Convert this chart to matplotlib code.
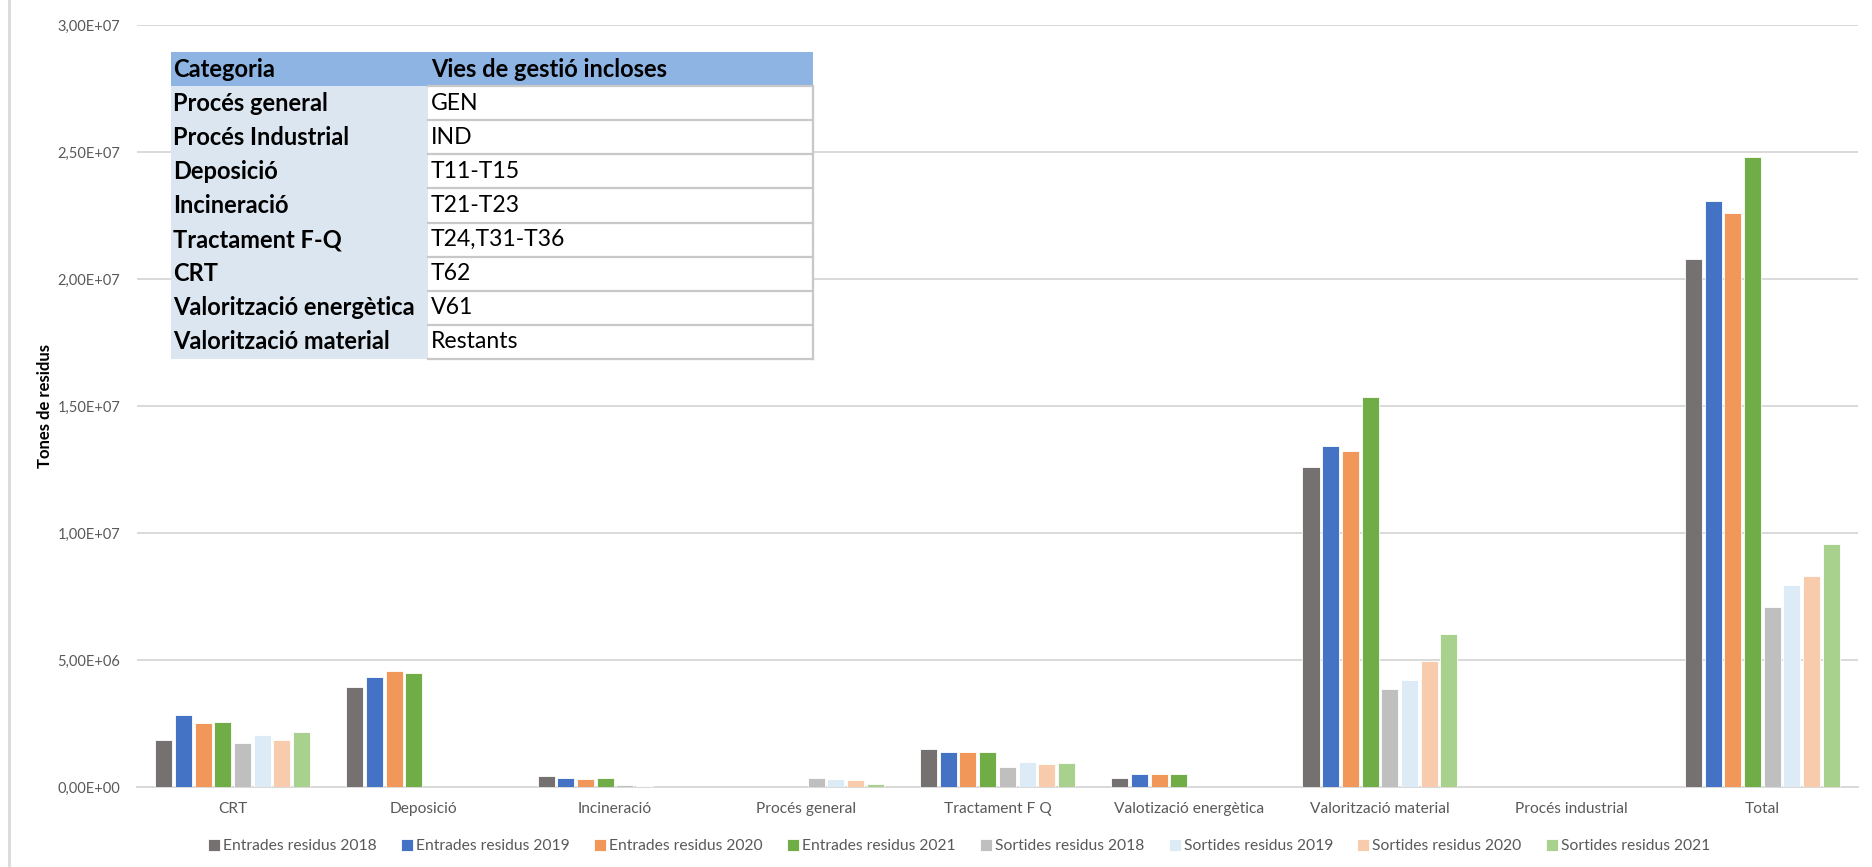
import matplotlib
matplotlib.use("Agg")
import matplotlib.pyplot as plt
import numpy as np
from matplotlib.patches import Rectangle
from matplotlib.lines import Line2D
from matplotlib.font_manager import FontProperties

categories = ["CRT", "Deposició", "Incineració", "Procés general", "Tractament F Q",
              "Valotizació energètica", "Valorització material", "Procés industrial", "Total"]

series_names = ["Entrades residus 2018", "Entrades residus 2019", "Entrades residus 2020",
                "Entrades residus 2021", "Sortides residus 2018", "Sortides residus 2019",
                "Sortides residus 2020", "Sortides residus 2021"]

entrades_2018 = [1.85e6, 3.93e6, 0.44e6, 0.0, 1.49e6, 0.37e6, 12.58e6, 0.0, 20.8e6]
entrades_2019 = [2.82e6, 4.34e6, 0.37e6, 0.0, 1.39e6, 0.53e6, 13.43e6, 0.0, 23.06e6]
entrades_2020 = [2.51e6, 4.55e6, 0.32e6, 0.0, 1.39e6, 0.53e6, 13.24e6, 0.0, 22.6e6]
entrades_2021 = [2.55e6, 4.50e6, 0.37e6, 0.0, 1.39e6, 0.53e6, 15.36e6, 0.0, 24.8e6]
sortides_2018 = [1.75e6, 0.0, 0.08e6, 0.37e6, 0.78e6, 0.0, 3.84e6, 0.0, 7.08e6]
sortides_2019 = [2.05e6, 0.0, 0.05e6, 0.33e6, 0.98e6, 0.0, 4.23e6, 0.0, 7.96e6]
sortides_2020 = [1.85e6, 0.0, 0.0, 0.28e6, 0.89e6, 0.0, 4.96e6, 0.0, 8.31e6]
sortides_2021 = [2.16e6, 0.0, 0.0, 0.13e6, 0.94e6, 0.0, 6.02e6, 0.0, 9.57e6]

all_series = [entrades_2018, entrades_2019, entrades_2020, entrades_2021,
              sortides_2018, sortides_2019, sortides_2020, sortides_2021]

colors = ["#767171", "#4472C4", "#F1975A", "#70AD47", "#BFBFBF", "#DDEBF7", "#F8CBAD", "#A9D18E"]

yticks = [0, 5e6, 1e7, 1.5e7, 2e7, 2.5e7, 3e7]
ytick_labels = ["0,00E+00", "5,00E+06", "1,00E+07", "1,50E+07", "2,00E+07", "2,50E+07", "3,00E+07"]

table_header = ["Categoria", "Vies de gestió incloses"]
table_cat = ["Procés general", "Procés Industrial", "Deposició", "Incineració",
             "Tractament F-Q", "CRT", "Valorització energètica", "Valorització material"]
table_vies = ["GEN", "IND", "T11-T15", "T21-T23", "T24,T31-T36", "T62", "V61", "Restants"]

FONT = ["Lato", "DejaVu Sans"]
plt.rcParams["font.family"] = FONT

W, H = 1872, 867
fig = plt.figure(figsize=(W / 100, H / 100), dpi=100)
fig.patch.set_facecolor("white")
renderer = fig.canvas.get_renderer()


def text_width(s, size, weight="normal"):
    fp = FontProperties(family=FONT, size=size, weight=weight)
    w, h, d = renderer.get_text_width_height_descent(s, fp, ismath=False)
    return w


def size_for(s, target_px, weight="normal"):
    return 10.0 * target_px / text_width(s, 10.0, weight)


def fx(px):
    return px / W


def fy(py):
    return 1 - py / H


ax_left, ax_right, ax_top, ax_bottom = 137, 1858, 25, 787
ax = fig.add_axes([fx(ax_left), fy(ax_bottom), fx(ax_right - ax_left), (ax_bottom - ax_top) / H])

x = np.arange(len(categories))
slot = 0.103
bw = 0.089
for j, (vals, col, name) in enumerate(zip(all_series, colors, series_names)):
    ax.bar(x + (j - 3.5) * slot, vals, width=bw, color=col, label=name,
           edgecolor="white", linewidth=0.6, zorder=3)

ax.set_xlim(-0.5, len(categories) - 0.5)
ax.set_ylim(0, 3e7)
ax.set_yticks(yticks)
ax.set_yticklabels(ytick_labels)
ax.set_xticks(x)
ax.set_xticklabels(categories)

fs_y = size_for("0,00E+00", 62)
fs_x = size_for("Valotizació energètica", 150)
ax.tick_params(axis="both", length=0, colors="#595959")
ax.tick_params(axis="y", pad=12, labelsize=fs_y)
ax.tick_params(axis="x", pad=10.5, labelsize=fs_x)
ax.grid(axis="y", color="#D9D9D9", linewidth=1.4, zorder=0)
for s in ["left", "right", "top"]:
    ax.spines[s].set_visible(False)
ax.spines["bottom"].set_color("#D9D9D9")
ax.spines["bottom"].set_linewidth(1.4)

fs_lab = size_for("Tones de residus", 125, "bold")
fig.text(fx(45), fy(406), "Tones de residus", rotation=90, ha="center", va="center",
         fontsize=fs_lab, fontweight="bold", color="black")

# legend: marker 12 px, gap 3 px, period 193 px
fs_leg = size_for("Entrades residus 2018", 154)
fs_leg_px = fs_leg * 100 / 72
tw = max(text_width(n, fs_leg) for n in series_names)
period = 193
leg = fig.legend(loc="center", bbox_to_anchor=(fx(959), fy(846)), ncol=8, frameon=False,
                 fontsize=fs_leg, handlelength=12 / fs_leg_px, handleheight=12 / fs_leg_px,
                 handletextpad=3 / fs_leg_px,
                 columnspacing=(period - 12 - 3 - tw) / fs_leg_px, labelcolor="#595959")

# left border of chart area
fig.add_artist(Line2D([fx(9), fx(9)], [fy(0), fy(867)], color="#D9D9D9", linewidth=2))

# Table overlay
t_left, t_split, t_right = 171, 428, 813
t_top, row_h = 52, 34.1
n_rows = len(table_cat) + 1
hdr_color = "#8DB4E2"
left_color = "#DCE6F1"
border = "#C8C8C8"

fig.add_artist(Rectangle((fx(t_left), fy(t_top + row_h)), fx(t_right - t_left), row_h / H,
                         facecolor=hdr_color, edgecolor="none", zorder=5))
fig.add_artist(Rectangle((fx(t_left), fy(t_top + n_rows * row_h)), fx(t_split - t_left),
                         (n_rows - 1) * row_h / H, facecolor=left_color, edgecolor="none", zorder=5))
fig.add_artist(Rectangle((fx(t_split), fy(t_top + n_rows * row_h)), fx(t_right - t_split),
                         (n_rows - 1) * row_h / H, facecolor="white", edgecolor="none", zorder=5))
for i in range(1, n_rows + 1):
    yy = fy(t_top + i * row_h)
    fig.add_artist(Line2D([fx(t_split), fx(t_right)], [yy, yy], color=border, linewidth=1.6, zorder=6))
fig.add_artist(Line2D([fx(t_right), fx(t_right)], [fy(t_top + row_h), fy(t_top + n_rows * row_h)],
                      color=border, linewidth=1.6, zorder=6))

fs_tb = size_for("Valorització energètica", 242, "bold")
fs_tr = size_for("Restants", 87)
fig.text(fx(t_left + 2), fy(t_top + row_h / 2), table_header[0], fontsize=fs_tb, fontweight="bold",
         va="center", ha="left", zorder=7)
fig.text(fx(t_split + 3), fy(t_top + row_h / 2), table_header[1], fontsize=fs_tb, fontweight="bold",
         va="center", ha="left", zorder=7)
for i, (c, v) in enumerate(zip(table_cat, table_vies)):
    yc = fy(t_top + (i + 1.5) * row_h)
    fig.text(fx(t_left + 2), yc, c, fontsize=fs_tb, fontweight="bold", va="center", ha="left", zorder=7)
    fig.text(fx(t_split + 3), yc, v, fontsize=fs_tr, va="center", ha="left", zorder=7)

fig.savefig("out.png", dpi=100, facecolor="white")
